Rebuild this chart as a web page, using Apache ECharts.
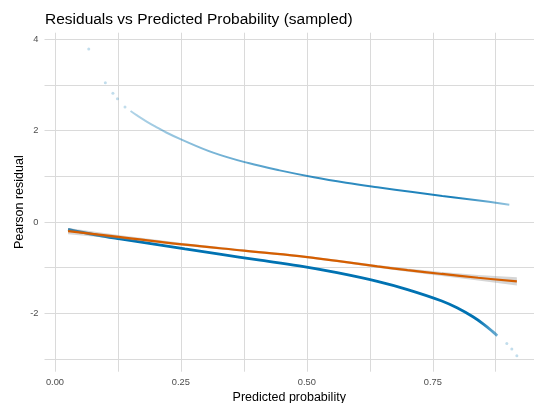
<!DOCTYPE html>
<html>
<head>
<meta charset="utf-8">
<script src="https://cdn.jsdelivr.net/npm/echarts@6/dist/echarts.min.js"></script>
<style>
  html, body { margin: 0; padding: 0; background: #fff; }
  #main { width: 534px; height: 403px; }
</style>
</head>
<body>
<div id="main"></div>
<script>
// residuals
var upperP = [0.150, 0.162, 0.182, 0.201, 0.221, 0.248, 0.314, 0.384, 0.446, 0.514, 0.578, 0.640, 0.710, 0.769, 0.842, 0.902];
var upperR = [2.43, 2.34, 2.20, 2.08, 1.96, 1.82, 1.52, 1.29, 1.13, 0.98, 0.86, 0.76, 0.655, 0.57, 0.47, 0.38];
var sparseP = [0.067, 0.100, 0.115, 0.124, 0.139, 0.897, 0.907, 0.917];
var sparseR = [3.79, 3.05, 2.82, 2.70, 2.52, -2.66, -2.78, -2.93];
var lowerP = [0.026, 0.080, 0.129, 0.200, 0.258, 0.330, 0.400, 0.485, 0.560, 0.640, 0.700, 0.768, 0.800, 0.829, 0.850, 0.869, 0.878];
var lowerR = [-0.16, -0.28, -0.37, -0.49, -0.59, -0.71, -0.825, -0.96, -1.11, -1.30, -1.48, -1.73, -1.89, -2.07, -2.23, -2.40, -2.49];
// smoother + band
var smoothP = [0.026, 0.130, 0.258, 0.375, 0.485, 0.560, 0.640, 0.700, 0.768, 0.840, 0.917];
var smoothR = [-0.20, -0.33, -0.497, -0.626, -0.747, -0.852, -0.972, -1.053, -1.138, -1.221, -1.302];
var bandLow = [-0.27, -0.37, -0.527, -0.651, -0.772, -0.877, -1.002, -1.088, -1.183, -1.281, -1.392];
var bandHigh = [-0.13, -0.29, -0.467, -0.601, -0.722, -0.827, -0.942, -1.018, -1.093, -1.161, -1.212];
// axis ticks
var xGrid = [0, 0.125, 0.25, 0.375, 0.5, 0.625, 0.75, 0.875];
var xLabels = [0, 0.25, 0.5, 0.75];
var yGrid = [-3, -2, -1, 0, 1, 2, 3, 4];
var yLabels = [-2, 0, 2, 4];

function pairs(xs, ys) {
  var out = [];
  for (var i = 0; i < xs.length; i++) out.push([xs[i], ys[i]]);
  return out;
}

var FONT = 'Liberation Sans, Arial, sans-serif';
var myChart = echarts.init(document.getElementById('main'), null, { renderer: 'canvas' });

// grey confidence band as one polygon
function renderBand(params, api) {
  if (params.dataIndex !== 0) return null;
  var pts = [];
  for (var i = 0; i < smoothP.length; i++) pts.push(api.coord([smoothP[i], bandHigh[i]]));
  for (var j = smoothP.length - 1; j >= 0; j--) pts.push(api.coord([smoothP[j], bandLow[j]]));
  return {
    type: 'polygon',
    shape: { points: pts, smooth: 0 },
    style: { fill: 'rgba(153,153,153,0.4)' },
    silent: true
  };
}

var option = {
  animation: false,
  backgroundColor: '#fff',
  title: {
    text: 'Residuals vs Predicted Probability (sampled)',
    left: 40,
    top: 7,
    textStyle: { fontFamily: FONT, fontSize: 15.5, fontWeight: 'normal', color: '#000' }
  },
  grid: { left: 44.5, right: 0, top: 32.7, bottom: 31.3, containLabel: false, outerBoundsMode: 'none' },
  xAxis: {
    type: 'value',
    min: -0.0208,
    max: 0.951,
    name: 'Predicted probability',
    nameLocation: 'middle',
    nameGap: 19,
    nameMoveOverlap: false,
    nameTextStyle: { fontFamily: FONT, fontSize: 12.5, color: '#000' },
    axisLine: { show: false },
    axisTick: { show: false, customValues: xGrid },
    axisLabel: {
      customValues: xLabels,
      margin: 6,
      fontFamily: FONT, fontSize: 9.3, color: '#4d4d4d',
      formatter: function (v) { return v.toFixed(2); }
    },
    splitLine: { show: true, lineStyle: { color: '#dadada', width: 1 } }
  },
  yAxis: {
    type: 'value',
    min: -3.278,
    max: 4.145,
    name: 'Pearson residual',
    nameLocation: 'middle',
    nameRotate: 90,
    nameGap: 18,
    nameMoveOverlap: false,
    nameTextStyle: { fontFamily: FONT, fontSize: 12.5, color: '#000' },
    axisLine: { show: false },
    axisTick: { show: false, customValues: yGrid },
    axisLabel: {
      customValues: yLabels,
      margin: 6,
      fontFamily: FONT, fontSize: 9.3, color: '#4d4d4d'
    },
    splitLine: { show: true, lineStyle: { color: '#dadada', width: 1 } }
  },
  series: [
    {
      name: 'upper',
      type: 'line',
      data: pairs(upperP, upperR),
      smooth: 0.4,
      symbol: 'none',
      lineStyle: {
        width: 2,
        color: {
          type: 'linear', x: 0, y: 0, x2: 1, y2: 0,
          colorStops: [
            { offset: 0, color: 'rgba(0,114,178,0.3)' },
            { offset: 0.15, color: 'rgba(0,114,178,0.45)' },
            { offset: 0.3, color: 'rgba(0,114,178,0.6)' },
            { offset: 0.5, color: 'rgba(0,114,178,0.8)' },
            { offset: 0.85, color: 'rgba(0,114,178,0.9)' },
            { offset: 1, color: 'rgba(0,114,178,0.4)' }
          ]
        }
      },
      z: 2
    },
    {
      name: 'sparse',
      type: 'scatter',
      data: pairs(sparseP, sparseR),
      symbolSize: 3,
      itemStyle: { color: 'rgba(0,114,178,0.3)' },
      z: 2
    },
    {
      name: 'lower',
      type: 'line',
      data: pairs(lowerP, lowerR),
      smooth: 0.4,
      symbol: 'none',
      lineStyle: {
        width: 2.8,
        color: {
          type: 'linear', x: 0, y: 0, x2: 1, y2: 0,
          colorStops: [
            { offset: 0, color: '#0072B2' },
            { offset: 0.95, color: '#0072B2' },
            { offset: 1, color: 'rgba(0,114,178,0.5)' }
          ]
        }
      },
      z: 3
    },
    {
      name: 'band',
      type: 'custom',
      renderItem: renderBand,
      data: [[smoothP[0], smoothR[0]]],
      silent: true,
      z: 4
    },
    {
      name: 'smooth',
      type: 'line',
      data: pairs(smoothP, smoothR),
      smooth: 0.4,
      symbol: 'none',
      lineStyle: { width: 2.2, color: '#D55E00' },
      z: 5
    }
  ]
};
myChart.setOption(option);
window.onresize = myChart.resize;
</script>
</body>
</html>
